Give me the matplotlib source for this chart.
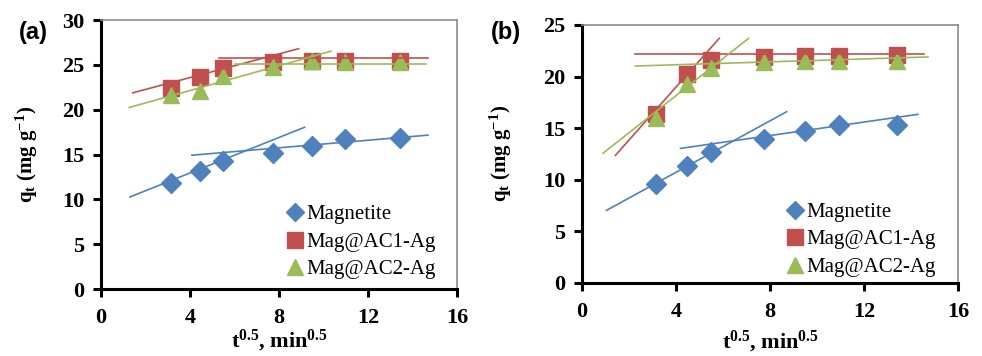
import matplotlib as mpl
mpl.use('Agg')
import matplotlib.pyplot as plt
import numpy as np

plt.rcParams['font.family'] = ['Liberation Serif', 'DejaVu Serif']
plt.rcParams['font.weight'] = 'bold'
plt.rcParams['axes.labelweight'] = 'bold'
plt.rcParams['mathtext.fontset'] = 'custom'
plt.rcParams['mathtext.rm'] = 'Liberation Serif:bold'
plt.rcParams['mathtext.bf'] = 'Liberation Serif:bold'
plt.rcParams['mathtext.it'] = 'Liberation Serif:bold'

# sqrt of contact time (10, 20, 30, 60, 90, 120, 180 min)
t_sqrt = [3.16, 4.47, 5.48, 7.75, 9.49, 10.95, 13.42]
series_names = ["Magnetite", "Mag@AC1-Ag", "Mag@AC2-Ag"]

# panel (a) uptake, mg/g
qa_mag = [11.8, 13.2, 14.3, 15.2, 16.0, 16.7, 16.8]
qa_ac1 = [22.4, 23.6, 24.6, 25.3, 25.4, 25.4, 25.4]
qa_ac2 = [21.6, 22.1, 23.7, 24.8, 25.4, 25.3, 25.3]

# panel (b) uptake, mg/g
qb_mag = [9.6, 11.3, 12.65, 13.9, 14.7, 15.3, 15.25]
qb_ac1 = [16.4, 20.25, 21.6, 21.9, 22.0, 22.0, 22.1]
qb_ac2 = [16.0, 19.3, 20.8, 21.4, 21.5, 21.5, 21.5]

# intraparticle diffusion fits: (slope, intercept, x_start, x_end)
fits_a = [
    [(0.99, 8.98, 1.3, 9.15), (0.211, 14.06, 4.08, 14.69)],
    [(0.66, 20.94, 1.42, 8.88), (0.0, 25.75, 5.3, 14.7)],
    [(0.692, 19.37, 1.27, 10.34), (0.0, 25.05, 6.0, 14.6)],
]
fits_b = [
    [(1.248, 5.72, 1.04, 8.71), (0.327, 11.66, 4.19, 14.29)],
    [(2.57, 8.70, 1.42, 5.84), (0.0, 22.15, 2.24, 14.57)],
    [(1.80, 10.95, 0.89, 7.09), (0.0707, 20.86, 2.27, 14.72)],
]

colors = ['#4F81BD', '#C0504D', '#9BBB59']
markers = ['D', 's', '^']
msizes = [10, 11.5, 11.5]

fig = plt.figure(figsize=[9.82, 3.56], dpi=100)
ax_a = fig.add_axes([0.1029, 0.1882, 0.3625, 0.7556])
ax_b = fig.add_axes([0.5927, 0.2059, 0.3829, 0.7239])


def draw_panel(ax, data, fits, ymax, letter, lx, xlpad, ylpad, leg_anchor):
    for q, c, m, ms, name in zip(data, colors, markers, msizes, series_names):
        ax.plot(t_sqrt, q, linestyle='none', marker=m, ms=ms, color=c,
                markeredgecolor=c, label=name, zorder=3)
    for seg_list, c in zip(fits, colors):
        for slope, icpt, x0, x1 in seg_list:
            xs = np.array([x0, x1])
            ax.plot(xs, slope * xs + icpt, color=c, lw=1.2, zorder=4)

    ax.set_xlim(0, 16)
    ax.set_ylim(0, ymax)
    ax.set_xticks([0, 4, 8, 12, 16])
    ax.set_yticks(np.arange(0, ymax + 1, 5))
    for s in ['left', 'bottom']:
        ax.spines[s].set_linewidth(2.2)
        ax.spines[s].set_color('black')
    for s in ['top', 'right']:
        ax.spines[s].set_linewidth(1.2)
        ax.spines[s].set_color('#8c8c8c')
    ax.tick_params(direction='out', length=6, width=2.2, labelsize=16)
    ax.tick_params(axis='x', pad=8)
    ax.tick_params(axis='y', pad=6)

    ax.set_xlabel(r'$\mathregular{t^{0.5}}$, $\mathregular{min^{0.5}}$',
                  fontsize=16, labelpad=xlpad)
    ax.set_ylabel(r'$\mathregular{q_t}$ (mg $\mathregular{g^{-1}}$)',
                  fontsize=15, labelpad=ylpad)

    handles, labels = ax.get_legend_handles_labels()
    ax.legend(handles[:3], labels[:3], loc='lower right',
              bbox_to_anchor=leg_anchor, frameon=False,
              prop={'family': ['Liberation Serif'], 'size': 15, 'weight': 'normal'},
              handlelength=0.6, handletextpad=0.25, labelspacing=0.38,
              borderaxespad=0.0, markerscale=0.95)
    fig.text(lx, 0.91, letter, fontsize=17, fontweight='bold',
             family=['Liberation Sans', 'DejaVu Sans'], ha='center', va='center')


draw_panel(ax_a, [qa_mag, qa_ac1, qa_ac2], fits_a, 30, '(a)', 0.034, 0, 16,
           (0.965, 0.005))
draw_panel(ax_b, [qb_mag, qb_ac1, qb_ac2], fits_b, 25, '(b)', 0.515, 5, 21,
           (0.964, -0.01))

plt.savefig('out.png', dpi=100)
plt.close()
